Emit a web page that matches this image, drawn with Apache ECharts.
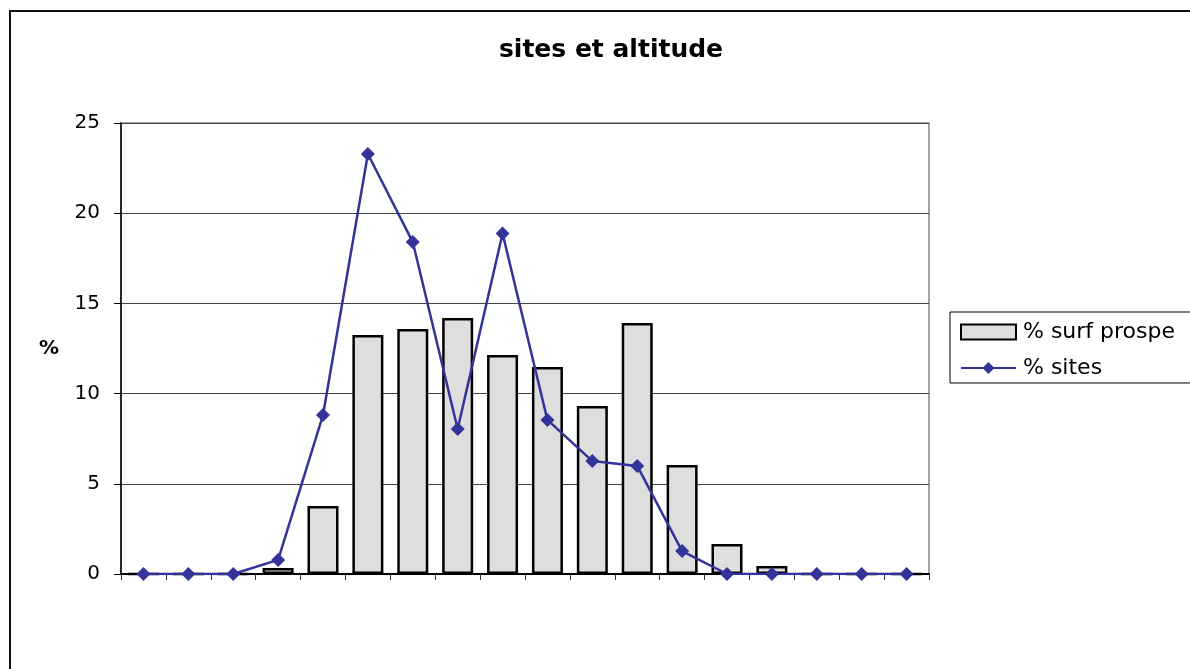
<!DOCTYPE html>
<html>
<head>
<meta charset="utf-8">
<script src="https://cdn.jsdelivr.net/npm/echarts@6/dist/echarts.min.js"></script>
<style>
html,body{margin:0;padding:0;background:#fff;}
#chart{width:1190px;height:669px;}
</style>
</head>
<body>
<div id="chart"></div>
<script>
var categories = ['1','2','3','4','5','6','7','8','9','10','11','12','13','14','15','16','17','18'];
var surfProspe = [0, 0, 0, 0.33, 3.77, 13.25, 13.58, 14.19, 12.14, 11.47, 9.31, 13.91, 6.04, 1.66, 0.44, 0, 0, 0];
var sites = [0, 0, 0, 0.78, 8.81, 23.28, 18.4, 8.04, 18.88, 8.54, 6.26, 5.99, 1.27, 0, 0, 0, 0, 0];
var seriesNames = ['% surf prospe', '% sites'];
var titleText = 'sites et altitude';
var yName = '%';

var chart = echarts.init(document.getElementById('chart'));
chart.setOption({
  animation: false,
  backgroundColor: '#fff',
  title: {
    text: titleText,
    left: 606,
    top: 33,
    textAlign: 'center',
    textStyle: {fontFamily: 'DejaVu Sans', fontWeight: 'bold', fontSize: 25, color: '#000'}
  },
  legend: {
    orient: 'vertical',
    left: 950,
    top: 312,
    padding: [9, 40, 4, 10],
    itemGap: 14,
    itemWidth: 55,
    itemHeight: 15,
    borderColor: '#000',
    borderWidth: 1,
    textStyle: {fontFamily: 'DejaVu Sans', fontSize: 22, color: '#000', padding: [0, 0, 0, 2]},
    data: [
      {name: seriesNames[0], icon: 'rect', itemStyle: {borderColor: '#000', borderWidth: 2}},
      {name: seriesNames[1]}
    ]
  },
  grid: {
    left: 121, right: 261, top: 123, bottom: 95,
    show: true, borderColor: '#888', borderWidth: 1.5, backgroundColor: 'transparent'
  },
  xAxis: {
    type: 'category',
    data: categories,
    boundaryGap: true,
    axisLine: {lineStyle: {color: '#000', width: 2}},
    axisTick: {show: true, length: 6, inside: false, lineStyle: {color: '#333', width: 1}},
    axisLabel: {show: false},
    splitLine: {show: false}
  },
  yAxis: {
    type: 'value',
    min: 0, max: 25, interval: 5,
    name: yName,
    nameLocation: 'middle',
    nameRotate: 0,
    nameGap: 62,
    nameTextStyle: {fontFamily: 'DejaVu Sans', fontWeight: 'bold', fontSize: 20, color: '#000'},
    axisLine: {show: true, lineStyle: {color: '#000', width: 1.5}},
    axisTick: {show: true, length: 7, lineStyle: {color: '#000', width: 1}},
    axisLabel: {fontFamily: 'DejaVu Sans', fontSize: 20, color: '#000', margin: 21},
    splitLine: {show: true, lineStyle: {color: '#444', width: 1}}
  },
  series: [
    {
      name: seriesNames[0],
      type: 'bar',
      data: surfProspe,
      barWidth: 31,
      itemStyle: {color: '#dedede', borderColor: '#000', borderWidth: 2.5}
    },
    {
      name: seriesNames[1],
      type: 'line',
      data: sites,
      symbol: 'diamond',
      symbolSize: 14,
      lineStyle: {color: '#333399', width: 2.5},
      itemStyle: {color: '#333399'}
    }
  ],
  graphic: [
    {
      type: 'rect',
      shape: {x: 10, y: 11, width: 1300, height: 800},
      style: {fill: 'none', stroke: '#111', lineWidth: 2},
      silent: true
    }
  ]
});
</script>
</body>
</html>
